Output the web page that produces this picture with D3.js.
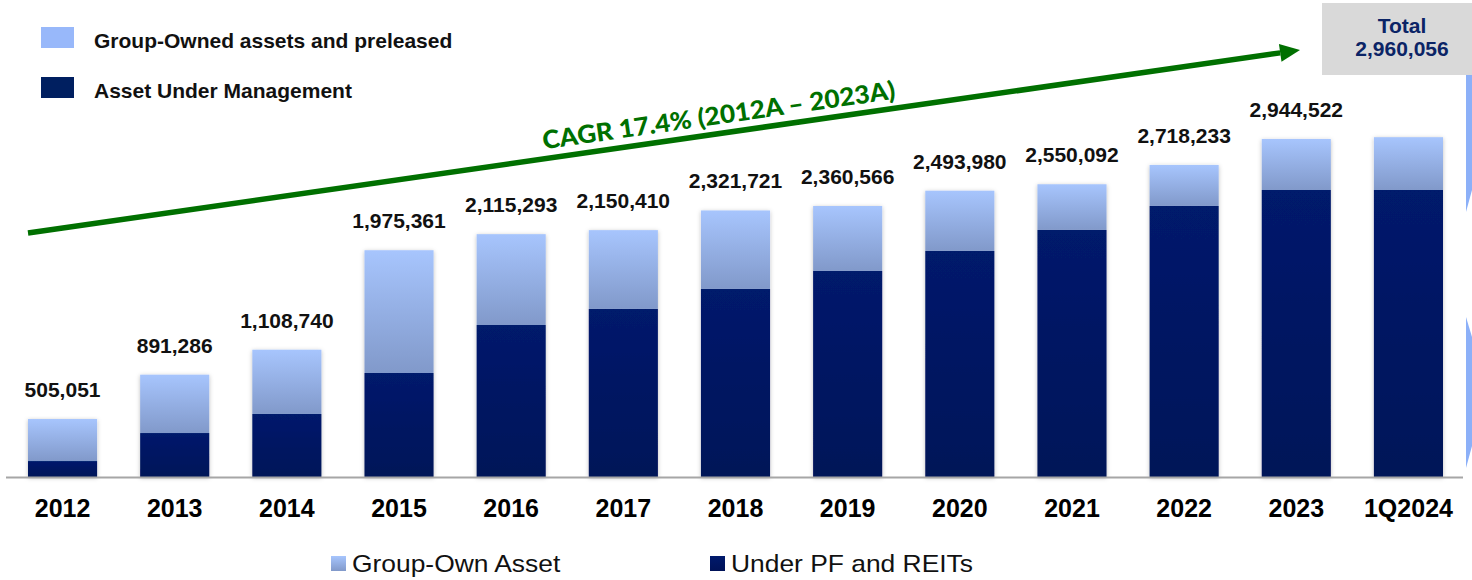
<!DOCTYPE html>
<html>
<head>
<meta charset="utf-8">
<script src="https://cdn.jsdelivr.net/npm/d3@7"></script>
<style>
  html, body { margin: 0; padding: 0; background: #ffffff; }
  svg { display: block; }
</style>
</head>
<body>
<svg id="chart" width="1472" height="580"></svg>
<script>
// ---------- DATA ----------
const categories = ["2012","2013","2014","2015","2016","2017","2018","2019","2020","2021","2022","2023","1Q2024"];
const totals     = [505051, 891286, 1108740, 1975361, 2115293, 2150410, 2321721, 2360566, 2493980, 2550092, 2718233, 2944522, 2960056];
const underPF    = [139000, 383000, 549000, 906000, 1324000, 1464000, 1638000, 1795000, 1969000, 2152000, 2361000, 2500000, 2500000];
const groupOwn   = [366051, 508286, 559740, 1069361, 791293, 686410, 683721, 565566, 524980, 398092, 357233, 444522, 460056];
const labelShown = [true, true, true, true, true, true, true, true, true, true, true, true, false];
const seriesNames = ["Group-Own Asset", "Under PF and REITs"];
const topLegend = ["Group-Owned assets and preleased", "Asset Under Management"];
const cagrText = "CAGR 17.4% (2012A \u2013 2023A)";
const totalTitle = "Total";
const totalValue = 2960056;

// ---------- SETUP ----------
const svg = d3.select("#chart");
const fmt = d3.format(",");
const FONT = "'Liberation Sans', Arial, Helvetica, sans-serif";

const defs = svg.append("defs");
const gLight = defs.append("linearGradient").attr("id","gLight").attr("x1",0).attr("y1",0).attr("x2",0).attr("y2",1);
gLight.append("stop").attr("offset","0%").attr("stop-color","#a7c5fd");
gLight.append("stop").attr("offset","100%").attr("stop-color","#8199ca");
const gDark = defs.append("linearGradient").attr("id","gDark").attr("x1",0).attr("y1",0).attr("x2",0).attr("y2",1);
gDark.append("stop").attr("offset","0%").attr("stop-color","#001a6c");
gDark.append("stop").attr("offset","100%").attr("stop-color","#001258");
const sh = defs.append("filter").attr("id","shadow").attr("x","-20%").attr("y","-5%").attr("width","140%").attr("height","115%");
sh.append("feDropShadow").attr("dx",0).attr("dy",1).attr("stdDeviation",2).attr("flood-color","#000").attr("flood-opacity",0.25);

const baseY = 477;
const x = d3.scaleBand().domain(categories).range([28, 1443]).paddingInner(0.384).paddingOuter(0);
const y = d3.scaleLinear().domain([0, 3000000]).range([baseY, baseY - 344.4]);

const rows = categories.map((c, i) => ({ cat: c, pf: underPF[i], go: groupOwn[i], total: totals[i], show: labelShown[i] }));
const stack = d3.stack().keys(["pf","go"])(rows);

// ---------- BARS ----------
const barG = svg.append("g");
barG.selectAll("g.bar").data(rows).join("g").attr("class","bar")
  .attr("filter","url(#shadow)")
  .each(function(d, i) {
    const g = d3.select(this);
    const s0 = stack[0][i], s1 = stack[1][i];
    g.append("rect").attr("x", x(d.cat)).attr("width", x.bandwidth())
      .attr("y", y(s0[1])).attr("height", y(s0[0]) - y(s0[1])).attr("fill","url(#gDark)");
    g.append("rect").attr("x", x(d.cat)).attr("width", x.bandwidth())
      .attr("y", y(s1[1])).attr("height", y(s1[0]) - y(s1[1])).attr("fill","url(#gLight)");
  });

// axis line
const xAxis = d3.axisBottom(x).tickSize(0).tickPadding(22);
const axG = svg.append("g").attr("transform", `translate(0,${baseY})`).call(xAxis);
axG.select(".domain").remove();
axG.append("line").attr("x1", 6).attr("x2", 1463).attr("y1", 0.5).attr("y2", 0.5)
  .attr("stroke", "#a6a6a6").attr("stroke-width", 2);
axG.selectAll(".tick text")
  .attr("font-family", FONT).attr("font-weight","bold").attr("font-size", 25)
  .attr("fill", "#000").attr("dy", "0.71em");

// value labels
svg.append("g").selectAll("text").data(rows.filter(d => d.show)).join("text")
  .attr("x", d => x(d.cat) + x.bandwidth()/2)
  .attr("y", d => y(d.total) - 22)
  .attr("text-anchor","middle")
  .attr("font-family", FONT).attr("font-weight","bold").attr("font-size", 21)
  .attr("fill","#111")
  .text(d => fmt(d.total));

// ---------- CAGR ARROW ----------
const ax0 = x(categories[0]), ay0 = 233;
const ax1 = 1300, ay1 = 50;
const ang = Math.atan2(ay1 - ay0, ax1 - ax0);
const headL = 20, headW = 9;
const bx = ax1 - headL * Math.cos(ang), by = ay1 - headL * Math.sin(ang);
svg.append("line").attr("x1", ax0).attr("y1", ay0).attr("x2", bx).attr("y2", by)
  .attr("stroke", "#007000").attr("stroke-width", 5.5);
const px = -Math.sin(ang), py = Math.cos(ang);
svg.append("polygon")
  .attr("points", [[ax1, ay1],[bx + px*headW, by + py*headW],[bx - px*headW, by - py*headW]].map(p => p.join(",")).join(" "))
  .attr("fill", "#007000");
const angDeg = ang * 180 / Math.PI;
svg.append("text")
  .attr("transform", `translate(720,124) rotate(${angDeg})`)
  .attr("text-anchor","middle")
  .attr("font-family","Lato, 'Open Sans', sans-serif").attr("font-weight","900").attr("font-size", 25)
  .attr("fill","#007000")
  .attr("textLength", 356).attr("lengthAdjust","spacingAndGlyphs")
  .text(cagrText);

// ---------- TOTAL BOX ----------
svg.append("rect").attr("x", 1322).attr("y", 3).attr("width", 150).attr("height", 72).attr("fill", "#d9d9d9");
svg.append("text").attr("x", 1402).attr("y", 33).attr("text-anchor","middle")
  .attr("font-family", FONT).attr("font-weight","bold").attr("font-size", 21).attr("fill","#0b2466").text(totalTitle);
svg.append("text").attr("x", 1402).attr("y", 56).attr("text-anchor","middle")
  .attr("font-family", FONT).attr("font-weight","bold").attr("font-size", 21).attr("fill","#0b2466").text(fmt(totalValue));

// right-edge decorative fragments
svg.append("polygon").attr("points","1466,75 1472,75 1472,190 1466,212").attr("fill","#8cb0f8");
svg.append("polygon").attr("points","1466,317 1472,337 1472,446 1466,468").attr("fill","#8cb0f8");

// ---------- TOP LEGEND ----------
const tl = svg.append("g");
topLegend.forEach((t, i) => {
  tl.append("rect").attr("x", 41).attr("y", 27 + i*50).attr("width", 33).attr("height", 21)
    .attr("fill", i === 0 ? "#98b8fa" : "#001f60");
  tl.append("text").attr("x", 94).attr("y", 48 + i*50)
    .attr("font-family", FONT).attr("font-weight","bold").attr("font-size", 21).attr("fill","#111").text(t);
});

// ---------- BOTTOM LEGEND ----------
const bl = svg.append("g");
const blX = [331, 710];
seriesNames.forEach((t, i) => {
  bl.append("rect").attr("x", blX[i]).attr("y", 556).attr("width", 15).attr("height", 15)
    .attr("fill", i === 0 ? "url(#gLight)" : "url(#gDark)");
  const tx = blX[i] + 21, ty = 572;
  bl.append("text").attr("x", 0).attr("y", 0)
    .attr("font-family", FONT).attr("font-size", 24).attr("fill","#111")
    .attr("transform", `translate(${tx},${ty}) scale(1.1,1)`)
    .text(t);
});
</script>
</body>
</html>
